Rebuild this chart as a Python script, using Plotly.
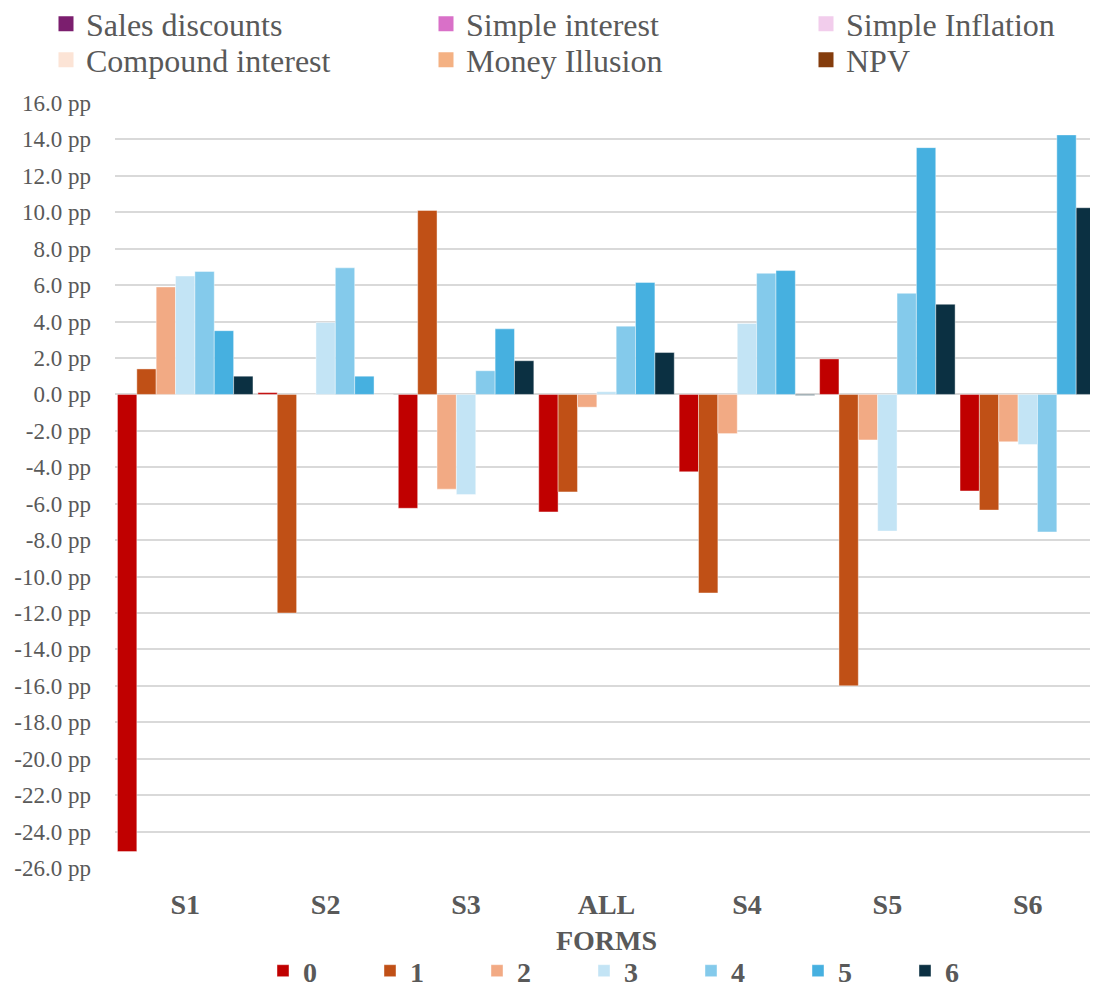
import plotly.graph_objects as go

categories = ["S1", "S2", "S3", "ALL<br>FORMS", "S4", "S5", "S6"]
series_names = ["0", "1", "2", "3", "4", "5", "6"]
series_values = {
    "0": [-25.1, 0.1, -6.25, -6.45, -4.25, 1.95, -5.3],
    "1": [1.4, -12.0, 10.1, -5.35, -10.9, -16.0, -6.35],
    "2": [5.9, 0.0, -5.2, -0.7, -2.15, -2.5, -2.6],
    "3": [6.5, 3.95, -5.5, 0.15, 3.9, -7.5, -2.75],
    "4": [6.75, 6.95, 1.3, 3.75, 6.65, 5.55, -7.55],
    "5": [3.5, 1.0, 3.6, 6.15, 6.8, 13.55, 14.25],
    "6": [1.0, 0.0, 1.85, 2.3, -0.05, 4.95, 10.25],
}
series_colors = ["#C00000", "#C05016", "#F2AA84", "#C3E4F5", "#84CAEB", "#46B0E0", "#0B3042"]

# legend-only entries (two rows of three)
extra_names = ["Sales discounts", "Simple interest", "Simple Inflation",
               "Compound interest", "Money Illusion", "NPV"]
extra_colors = ["#7B1E6E", "#D970C8", "#F2CDEC", "#FCE4D6", "#F4B183", "#843C0C"]

tick_vals = list(range(-26, 17, 2))
tick_text = [f"{v:.1f} pp" for v in tick_vals]

GREY = "#595959"
FONT = "Liberation Serif, Times New Roman, serif"
W, H = 1090, 982

fig = go.Figure()
for name, color in zip(series_names, series_colors):
    fig.add_trace(go.Bar(
        x=categories, y=series_values[name], name=name,
        marker=dict(color=color, line=dict(width=0.6, color="rgba(255,255,255,0.7)")),
        legend="legend",
    ))

col_x = [38 / W, 418 / W, 798 / W]
row_y = [1 - 16 / H, 1 - 52 / H]
top_legends = {}
for i, (name, color) in enumerate(zip(extra_names, extra_colors)):
    key = f"legend{i + 2}"
    fig.add_trace(go.Scatter(
        x=[None], y=[None], name=name, mode="markers",
        marker=dict(symbol="square", size=15, color=color),
        legend=key,
    ))
    top_legends[key] = dict(
        orientation="h", xref="container", yref="container",
        x=col_x[i % 3], y=row_y[i // 3], xanchor="left", yanchor="middle",
        itemwidth=30, font=dict(family=FONT, size=32, color=GREY),
        bgcolor="rgba(0,0,0,0)",
    )

fig.update_layout(
    width=W, height=H,
    margin=dict(l=107, r=0, t=95, b=122, autoexpand=False),
    paper_bgcolor="white", plot_bgcolor="white",
    barmode="group", bargap=0.035, bargroupgap=0,
    font=dict(family=FONT, color=GREY),
    legend=dict(
        orientation="h", xref="container", yref="container",
        x=255 / W, y=1 - 963 / H, xanchor="left", yanchor="middle",
        entrywidth=62, entrywidthmode="pixels", itemwidth=30,
        font=dict(family=FONT, size=28, color=GREY, weight="bold"),
        traceorder="normal", bgcolor="rgba(0,0,0,0)",
    ),
    **top_legends,
)

fig.update_xaxes(
    type="category", showgrid=False, zeroline=False, showline=False,
    ticks="", ticklabelstandoff=17,
    tickfont=dict(family=FONT, size=28, color=GREY, weight="bold"),
)
fig.update_yaxes(
    range=[-26, 16], tickvals=tick_vals, ticktext=tick_text,
    showgrid=True, gridcolor="#D9D9D9", gridwidth=1.5,
    zeroline=True, zerolinecolor="#D9D9D9", zerolinewidth=1.5,
    showline=False, ticks="", ticklabelstandoff=23,
    tickfont=dict(family=FONT, size=23, color=GREY),
)

fig.write_html("out.html")
